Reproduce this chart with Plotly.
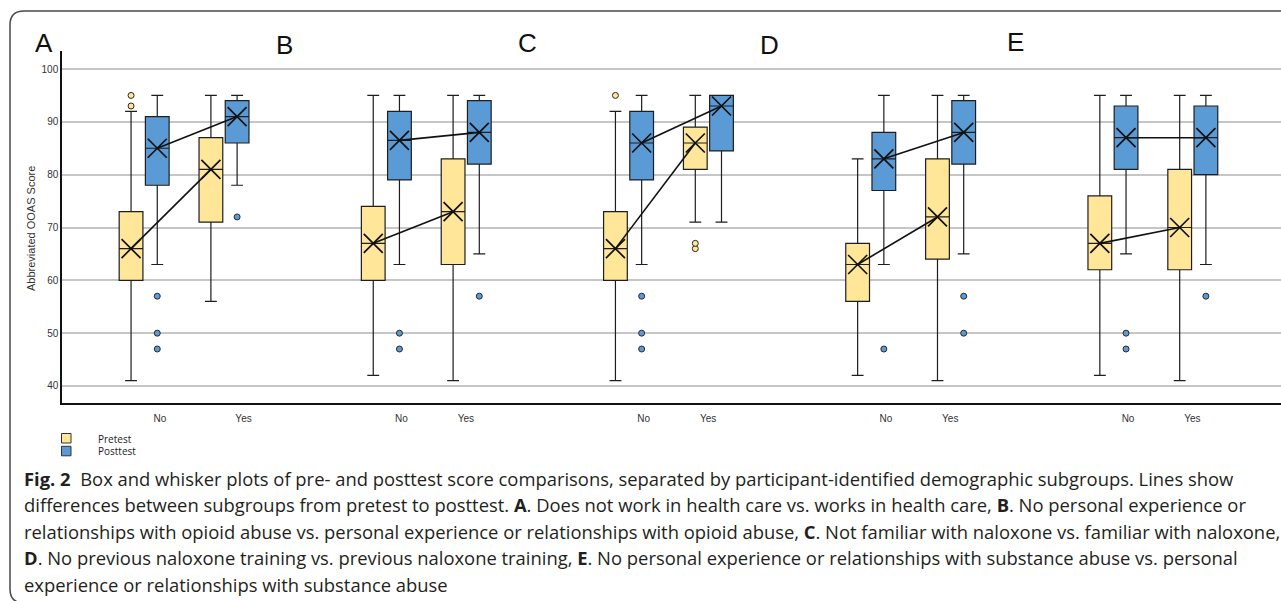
import plotly.graph_objects as go

# ---------------- data ----------------
groups = ["A", "B", "C", "D", "E"]
subgroups = ["No", "Yes"]
# order of values: A-No, A-Yes, B-No, B-Yes, C-No, C-Yes, D-No, D-Yes, E-No, E-Yes
pre_low = [41, 56, 42, 41, 41, 71, 42, 41, 42, 41]
pre_q1 = [60, 71, 60, 63, 60, 81, 56, 64, 62, 62]
pre_median = [66, 81, 67, 73, 66, 86, 63, 72, 67, 70]
pre_q3 = [73, 87, 74, 83, 73, 89, 67, 83, 76, 81]
pre_high = [92, 95, 95, 95, 92, 95, 83, 95, 95, 95]
pre_mean = [66, 81, 67, 73, 66, 86, 63, 72, 67, 70]
pre_outliers = [[93, 95], [], [], [], [95], [66, 67], [], [], [], []]

post_low = [63, 78, 63, 65, 63, 71, 63, 65, 65, 63]
post_q1 = [78, 86, 79, 82, 79, 84.5, 77, 82, 81, 80]
post_median = [85, 91, 86.5, 88, 86, 93, 83, 88, 87, 87]
post_q3 = [91, 94, 92, 94, 92, 95, 88, 94, 93, 93]
post_high = [95, 95, 95, 95, 95, 95, 95, 95, 95, 95]
post_mean = [85, 91, 86.5, 88, 86, 93, 83, 88, 87, 87]
post_outliers = [[47, 50, 57], [72], [47, 50], [57], [47, 50, 57], [], [47], [50, 57], [47, 50], [57]]

y_ticks = [40, 50, 60, 70, 80, 90, 100]
series_names = ["Pretest", "Posttest"]
y_title = "Abbreviated OOAS Score"

caption_lines = [
    "<b>Fig. 2</b>  Box and whisker plots of pre- and posttest score comparisons, separated by participant-identified demographic subgroups. Lines show",
    "differences between subgroups from pretest to posttest. <b>A</b>. Does not work in health care vs. works in health care, <b>B</b>. No personal experience or",
    "relationships with opioid abuse vs. personal experience or relationships with opioid abuse, <b>C</b>. Not familiar with naloxone vs. familiar with naloxone,",
    "<b>D</b>. No previous naloxone training vs. previous naloxone training, <b>E</b>. No personal experience or relationships with substance abuse vs. personal",
    "experience or relationships with substance abuse",
]

# ---------------- layout geometry ----------------
W, H = 1281, 601
ML, MT = 62, 51
PLOT_R, PLOT_B = 1281, 403
PW, PH = PLOT_R - ML, PLOT_B - MT

def px2x(px):
    return (px - ML) / PW

def py2y(py):
    return (PLOT_B - py) / PH

SUB_CENTER = {"No": 0.0547, "Yes": 0.3844}
SER_OFF = {"Pretest": -0.0541, "Posttest": 0.0541}
BOX_W = 0.098
X_RANGE = [-0.2845, 4.7486]
Y_RANGE = [36.78, 103.41]

COLORS = {"Pretest": "#FFE699", "Posttest": "#5B9BD5"}

def positions(series):
    xs = []
    for gi, _g in enumerate(groups):
        for s in subgroups:
            xs.append(gi + SUB_CENTER[s] + SER_OFF[series])
    return xs

fig = go.Figure()

stats = {
    "Pretest": (pre_low, pre_q1, pre_median, pre_q3, pre_high, pre_mean, pre_outliers),
    "Posttest": (post_low, post_q1, post_median, post_q3, post_high, post_mean, post_outliers),
}

for name in series_names:
    low, q1, med, q3, high, mean, outl = stats[name]
    xs = positions(name)
    fig.add_trace(go.Box(
        x=xs, q1=q1, median=med, q3=q3, lowerfence=low, upperfence=high,
        width=BOX_W, whiskerwidth=0.5, boxpoints=False,
        fillcolor=COLORS[name], line=dict(color="#1e1e1e", width=1.2),
        name=name, showlegend=False, hoverinfo="skip",
    ))

# lines connecting means (No -> Yes within each group)
for name in series_names:
    mean = stats[name][5]
    xs = positions(name)
    lx, ly = [], []
    for gi in range(len(groups)):
        lx += [xs[2 * gi], xs[2 * gi + 1], None]
        ly += [mean[2 * gi], mean[2 * gi + 1], None]
    fig.add_trace(go.Scatter(x=lx, y=ly, mode="lines",
                             line=dict(color="#111111", width=1.6),
                             showlegend=False, hoverinfo="skip"))

# mean markers
for name in series_names:
    mean = stats[name][5]
    xs = positions(name)
    fig.add_trace(go.Scatter(x=xs, y=mean, mode="markers",
                             marker=dict(symbol="x-thin", size=19, color="#111111",
                                         line=dict(color="#111111", width=1.7)),
                             showlegend=False, hoverinfo="skip"))

# outliers
for name in series_names:
    outl = stats[name][6]
    xs = positions(name)
    ox, oy = [], []
    for i, vals in enumerate(outl):
        for v in vals:
            ox.append(xs[i])
            oy.append(v)
    fig.add_trace(go.Scatter(x=ox, y=oy, mode="markers",
                             marker=dict(symbol="circle", size=6, color=COLORS[name],
                                         line=dict(color="#2a2a2a", width=1)),
                             showlegend=False, hoverinfo="skip"))

# x tick labels positions (layout)
no_lab_off = [0.120, 0.117, 0.117, 0.117, 0.117]
yes_lab_off = [0.465, 0.383, 0.383, 0.383, 0.383]
tickvals, ticktext = [], []
for gi in range(len(groups)):
    tickvals += [gi + no_lab_off[gi], gi + yes_lab_off[gi]]
    ticktext += subgroups

annotations = []
# panel letters
letter_px = [(44, 43), (284, 45), (527, 43), (770, 45), (1015, 42)]
for g, (lx, ly) in zip(groups, letter_px):
    annotations.append(dict(x=px2x(lx), y=py2y(ly), xref="paper", yref="paper",
                            text=g, showarrow=False, xanchor="center", yanchor="middle",
                            font=dict(family="Liberation Sans, Arial, sans-serif", size=26, color="#111")))
# y-axis title
annotations.append(dict(x=px2x(31), y=py2y(229), xref="paper", yref="paper",
                        text=y_title, textangle=-90, showarrow=False,
                        xanchor="center", yanchor="middle",
                        font=dict(family="Liberation Sans, Arial, sans-serif", size=11, color="#333")))
# legend
shapes = []
leg_y = [438.5, 451.3]
for name, ly in zip(series_names, leg_y):
    shapes.append(dict(type="rect", xref="paper", yref="paper",
                       x0=px2x(61.5), x1=px2x(71), y0=py2y(ly - 5), y1=py2y(ly + 4.5),
                       fillcolor=COLORS[name], line=dict(color="#333", width=1)))
    annotations.append(dict(x=px2x(96), y=py2y(ly), xref="paper", yref="paper",
                            text=name, showarrow=False, xanchor="left", yanchor="middle",
                            font=dict(family="Open Sans, sans-serif", size=10, color="#222")))
# caption
cap_y0, cap_dy = 478, 26.5
for i, line in enumerate(caption_lines):
    annotations.append(dict(x=px2x(22), y=py2y(cap_y0 + i * cap_dy), xref="paper", yref="paper",
                            text=line, showarrow=False, xanchor="left", yanchor="middle",
                            font=dict(family="Open Sans, sans-serif", size=18.4, color="#231f20")))

# rounded frame
r = 14
L, T, R, B = 10, 11, 1310, 603
path = (f"M {px2x(R)},{py2y(T)} L {px2x(L + r)},{py2y(T)} "
        f"Q {px2x(L)},{py2y(T)} {px2x(L)},{py2y(T + r)} "
        f"L {px2x(L)},{py2y(B - r)} Q {px2x(L)},{py2y(B)} {px2x(L + r)},{py2y(B)} "
        f"L {px2x(R)},{py2y(B)}")
shapes.append(dict(type="path", xref="paper", yref="paper", path=path,
                   line=dict(color="#4a4a4a", width=1.5)))

fig.update_layout(
    width=W, height=H,
    margin=dict(l=ML, r=W - PLOT_R, t=MT, b=H - PLOT_B, pad=0),
    paper_bgcolor="white", plot_bgcolor="white",
    boxmode="overlay", showlegend=False,
    xaxis=dict(range=X_RANGE, showgrid=False, zeroline=False, showline=True,
               linecolor="#111", linewidth=1.5, tickvals=tickvals, ticktext=ticktext,
               ticks="outside", ticklen=5, tickcolor="rgba(0,0,0,0)",
               tickfont=dict(family="Liberation Sans, Arial, sans-serif", size=10, color="#333")),
    yaxis=dict(range=Y_RANGE, tickvals=y_ticks, showgrid=True, gridcolor="#c6c6c6",
               gridwidth=1.5, zeroline=False, showline=True, linecolor="#111", linewidth=1.5,
               ticks="", tickfont=dict(family="Liberation Sans, Arial, sans-serif", size=10, color="#333")),
    annotations=annotations, shapes=shapes,
)

fig.write_html("out.html", config={"displayModeBar": False},
               post_script="document.body.style.margin='0';document.body.style.overflow='hidden';")
